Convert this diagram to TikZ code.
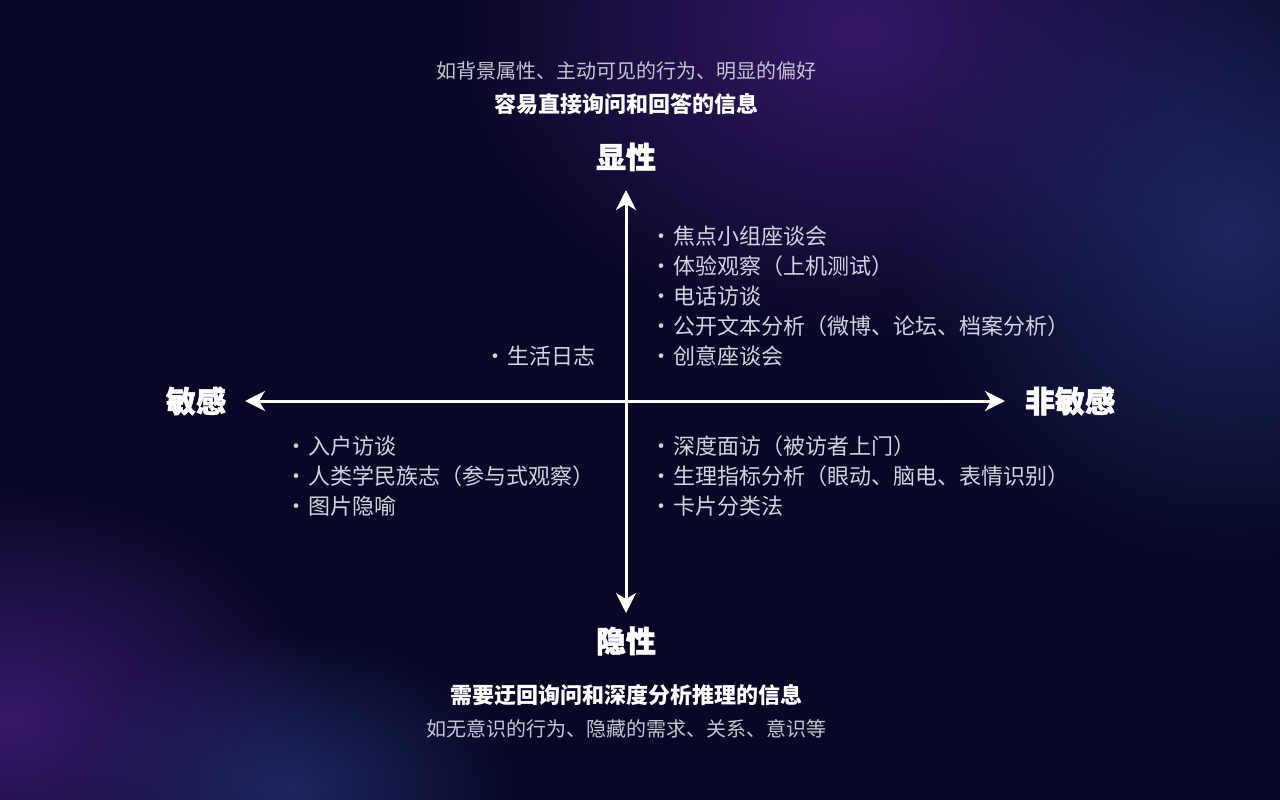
\documentclass[tikz,border=0pt]{standalone}
\usepackage{fontspec}
\newfontfamily\cjk{Noto Sans CJK SC}
\newfontfamily\cjkheavy[FakeBold=1.6]{Noto Sans CJK SC}
\usetikzlibrary{arrows.meta,fadings}
\definecolor{bgbase}{HTML}{080826}
\definecolor{glowpurple}{HTML}{3A1A6E}
\definecolor{glowblue}{HTML}{22306E}
\definecolor{subgray}{HTML}{C4C4D4}
\definecolor{itemgray}{HTML}{D2D2E0}
\tikzfading[name=glowfade, inner color=transparent!0, outer color=transparent!100]
\newcommand{\itm}[1]{·\kern1pt#1}
\begin{document}
\begin{tikzpicture}[x=1pt,y=-1pt,
  sub/.style={text=subgray, font=\cjk\fontsize{20}{24}\selectfont, inner sep=0pt},
  lead/.style={text=white, font=\cjk\bfseries\fontsize{22}{26}\selectfont, inner sep=0pt},
  pole/.style={text=white, font=\cjkheavy\bfseries\fontsize{30}{36}\selectfont, inner sep=0pt},
  item/.style={text=itemgray, font=\cjk\fontsize{22}{26}\selectfont, anchor=west, inner sep=0pt},
  axisline/.style={white, line width=3pt, {Stealth[length=20pt,width=20pt,inset=6pt]}-{Stealth[length=20pt,width=20pt,inset=6pt]}}]
\useasboundingbox (0,0) rectangle (1280,800);
\fill[bgbase] (0,0) rectangle (1280,800);
\begin{scope}
\clip (0,0) rectangle (1280,800);
\fill[glowpurple, path fading=glowfade, fill opacity=0.9] (860,30) ellipse (420 and 320);
\fill[glowblue, path fading=glowfade, fill opacity=0.8] (1230,230) ellipse (340 and 340);
\fill[glowpurple, path fading=glowfade, fill opacity=0.95] (10,720) ellipse (320 and 240);
\fill[glowblue, path fading=glowfade, fill opacity=0.8] (290,790) ellipse (230 and 160);
\end{scope}
% axes
\coordinate (vtop) at (626,190);
\coordinate (vbot) at (626,613);
\coordinate (hleft) at (245,401);
\coordinate (hright) at (1005,401);
\draw[axisline] (vtop) -- (vbot);
\draw[axisline] (hleft) -- (hright);
% poles
\node[pole] (top) at (626,157) {显性};
\node[pole] (bottom) at (626,641) {隐性};
\node[pole] (left) at (196,401) {敏感};
\node[pole] (right) at (1070,401) {非敏感};
% descriptions
\node[sub] (topsub) at (626,71) {如背景属性、主动可见的行为、明显的偏好};
\node[lead] (toplead) at (626,104) {容易直接询问和回答的信息};
\node[lead] (botlead) at (626,695) {需要迂回询问和深度分析推理的信息};
\node[sub] (botsub) at (626,729) {如无意识的行为、隐藏的需求、关系、意识等};
% quadrant lists
\node[item] (tr1) at (650,236) {\itm{焦点小组座谈会}};
\node[item] (tr2) at (650,266) {\itm{体验观察（上机测试）}};
\node[item] (tr3) at (650,296) {\itm{电话访谈}};
\node[item] (tr4) at (650,326) {\itm{公开文本分析（微博、论坛、档案分析）}};
\node[item] (tr5) at (650,356) {\itm{创意座谈会}};
\node[item] (tl1) at (484,356) {\itm{生活日志}};
\node[item] (bl1) at (285,446) {\itm{入户访谈}};
\node[item] (bl2) at (285,476) {\itm{人类学民族志（参与式观察）}};
\node[item] (bl3) at (285,506) {\itm{图片隐喻}};
\node[item] (br1) at (650,446) {\itm{深度面访（被访者上门）}};
\node[item] (br2) at (650,476) {\itm{生理指标分析（眼动、脑电、表情识别）}};
\node[item] (br3) at (650,506) {\itm{卡片分类法}};
\end{tikzpicture}
\end{document}
